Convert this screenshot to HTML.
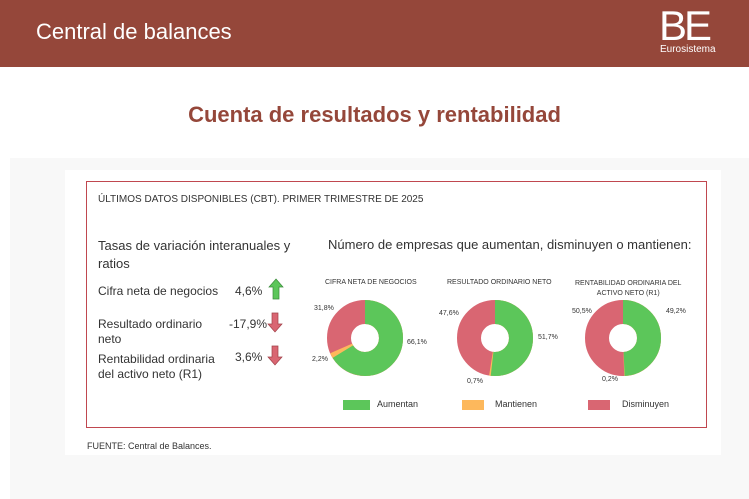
<!DOCTYPE html>
<html><head><meta charset="utf-8"><style>
body{margin:0;width:749px;height:499px;overflow:hidden;background:#fff;font-family:"Liberation Sans",sans-serif;position:relative}
.a{position:absolute;white-space:nowrap}
</style></head><body>
<div class="a" style="left:0;top:0;width:749px;height:67px;background:#95473a"></div>
<div class="a" style="left:36px;top:19px;font-size:22px;color:#fff">Central de balances</div>
<div class="a" style="left:659px;top:2px;font-size:42px;color:#fff;letter-spacing:-3px;font-weight:300">B<b>E</b></div>
<div class="a" style="left:660px;top:44px;font-size:10px;color:#fff">Eurosistema</div>
<div class="a" style="left:0;top:102px;width:749px;text-align:center;font-size:22px;font-weight:bold;color:#95473a">Cuenta de resultados y rentabilidad</div>
<div class="a" style="left:10px;top:158px;width:739px;height:341px;background:#f8f8f8"></div>
<div class="a" style="left:65px;top:170px;width:656px;height:285px;background:#fff"></div>
<div class="a" style="left:86px;top:181px;width:619px;height:245px;border:1.5px solid #c0474f"></div>
<div class="a" style="left:98px;top:194px;font-size:10px;color:#333">ÚLTIMOS DATOS DISPONIBLES (CBT). PRIMER TRIMESTRE DE 2025</div>
<div class="a" style="left:98px;top:237px;font-size:13px;color:#333;line-height:18px">Tasas de variación interanuales y<br>ratios</div>
<div class="a" style="left:98px;top:284px;font-size:12px;color:#333">Cifra neta de negocios</div>
<div class="a" style="left:235px;top:284px;font-size:12px;color:#333">4,6%</div>
<div class="a" style="left:98px;top:317px;font-size:12px;color:#333;line-height:15px">Resultado ordinario<br>neto</div>
<div class="a" style="left:229px;top:317px;font-size:12px;color:#333">-17,9%</div>
<div class="a" style="left:98px;top:352px;font-size:12px;color:#333;line-height:15px">Rentabilidad ordinaria<br>del activo neto (R1)</div>
<div class="a" style="left:235px;top:350px;font-size:12px;color:#333">3,6%</div>
<svg class="a" style="left:0;top:0" width="749" height="499">
<polygon points="276,279 283,287 279,287 279,299 273,299 273,287 269,287" fill="#5cc65a" stroke="#3a8a3a" stroke-width=".7"/>
<polygon points="272,313 278,313 278,324 282,324 275,332 268,324 272,324" fill="#d96672" stroke="#a04048" stroke-width=".7"/>
<polygon points="272,346 278,346 278,357 282,357 275,365 268,357 272,357" fill="#d96672" stroke="#a04048" stroke-width=".7"/>
<g fill="none" stroke-width="24">
<g transform="rotate(-90 365 338)">
<circle cx="365" cy="338" r="26" stroke="#d96672"/>
<circle cx="365" cy="338" r="26" stroke="#fdb85c" stroke-dasharray="111.6 200"/>
<circle cx="365" cy="338" r="26" stroke="#5cc65a" stroke-dasharray="108 200"/></g>
<g transform="rotate(-90 495 338)">
<circle cx="495" cy="338" r="26" stroke="#d96672"/>
<circle cx="495" cy="338" r="26" stroke="#fdb85c" stroke-dasharray="85.6 200"/>
<circle cx="495" cy="338" r="26" stroke="#5cc65a" stroke-dasharray="84.5 200"/></g>
<g transform="rotate(-90 623 338)">
<circle cx="623" cy="338" r="26" stroke="#d96672"/>
<circle cx="623" cy="338" r="26" stroke="#fdb85c" stroke-dasharray="80.7 200"/>
<circle cx="623" cy="338" r="26" stroke="#5cc65a" stroke-dasharray="80.4 200"/></g>
</g>
<rect x="343" y="400" width="27" height="10" fill="#5cc65a"/>
<rect x="462" y="400" width="22" height="10" fill="#fdb85c"/>
<rect x="588" y="400" width="22" height="10" fill="#d96672"/>
</svg>
<div class="a" style="left:328px;top:237px;font-size:13px;color:#333">Número de empresas que aumentan, disminuyen o mantienen:</div>
<div class="a" style="font-size:7px;color:#333;left:325px;top:279px">CIFRA NETA DE NEGOCIOS</div>
<div class="a" style="font-size:7px;color:#333;left:447px;top:279px">RESULTADO ORDINARIO NETO</div>
<div class="a" style="font-size:7px;color:#333;left:575px;top:279px;text-align:center;line-height:10px">RENTABILIDAD ORDINARIA DEL<br>ACTIVO NETO (R1)</div>
<div class="a" style="font-size:7px;color:#333;left:314px;top:305px">31,8%</div>
<div class="a" style="font-size:7px;color:#333;left:407px;top:339px">66,1%</div>
<div class="a" style="font-size:7px;color:#333;left:312px;top:356px">2,2%</div>
<div class="a" style="font-size:7px;color:#333;left:439px;top:310px">47,6%</div>
<div class="a" style="font-size:7px;color:#333;left:538px;top:334px">51,7%</div>
<div class="a" style="font-size:7px;color:#333;left:467px;top:378px">0,7%</div>
<div class="a" style="font-size:7px;color:#333;left:572px;top:308px">50,5%</div>
<div class="a" style="font-size:7px;color:#333;left:666px;top:308px">49,2%</div>
<div class="a" style="font-size:7px;color:#333;left:602px;top:376px">0,2%</div>
<div class="a" style="font-size:9px;color:#333;left:377px;top:399px">Aumentan</div>
<div class="a" style="font-size:9px;color:#333;left:495px;top:399px">Mantienen</div>
<div class="a" style="font-size:9px;color:#333;left:622px;top:399px">Disminuyen</div>
<div class="a" style="left:87px;top:441px;font-size:9px;color:#333">FUENTE: Central de Balances.</div>
</body></html>
